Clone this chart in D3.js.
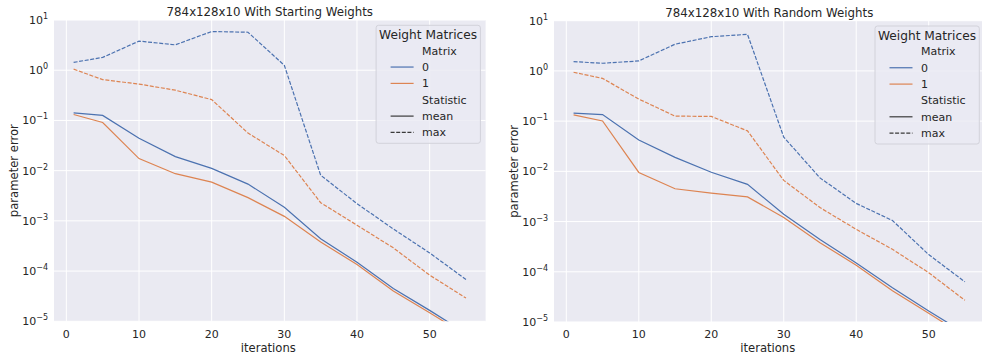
<!DOCTYPE html>
<html>
<head>
<meta charset="utf-8">
<script src="https://cdn.jsdelivr.net/npm/d3@7"></script>
<style>
  body { margin: 0; background: #fff; }
  text { font-family: "DejaVu Sans", sans-serif; fill: #262626; }
</style>
</head>
<body>
<svg id="chart" width="982" height="356"></svg>
<script>
// iterations sampled
var iterations = [1, 5, 10, 15, 20, 25, 30, 35, 40, 45, 50, 55];
var matrices = ["0", "1"];
var statistics = ["mean", "max"];
var titles = ["784x128x10 With Starting Weights", "784x128x10 With Random Weights"];
var yTicks = [1e-5, 1e-4, 1e-3, 1e-2, 1e-1, 1, 10];
var xTicks = [0, 10, 20, 30, 40, 50];

// starting weights panel
var startMean0 = [0.141, 0.126, 0.044, 0.019, 0.0111, 0.0054, 0.00187, 4.4e-4, 1.5e-4, 4.5e-5, 1.65e-5, 5.8e-6];
var startMean1 = [0.131, 0.091, 0.0174, 0.0087, 0.0059, 0.0029, 0.00123, 3.8e-4, 1.35e-4, 4.0e-5, 1.48e-5, 5.3e-6];
var startMax0 = [1.43, 1.8, 3.8, 3.2, 5.9, 5.7, 1.25, 0.0081, 0.0022, 6.9e-4, 2.3e-4, 6.8e-5];
var startMax1 = [1.05, 0.65, 0.53, 0.40, 0.26, 0.056, 0.020, 0.0023, 8.2e-4, 2.9e-4, 8.3e-5, 2.9e-5];

// random weights panel
var randMean0 = [0.144, 0.135, 0.042, 0.019, 0.0096, 0.0055, 0.0014, 4.4e-4, 1.5e-4, 4.8e-5, 1.65e-5, 6.0e-6];
var randMean1 = [0.133, 0.101, 0.0095, 0.0045, 0.0037, 0.0031, 0.0012, 3.8e-4, 1.35e-4, 4.2e-5, 1.5e-5, 5.2e-6];
var randMax0 = [1.53, 1.42, 1.58, 3.4, 4.8, 5.35, 0.048, 0.0074, 0.0023, 0.00105, 2.2e-4, 6.3e-5];
var randMax1 = [0.94, 0.71, 0.275, 0.126, 0.124, 0.064, 0.0066, 0.0019, 7.0e-4, 2.8e-4, 9.6e-5, 2.7e-5];

var colors = {"0": "#4c72b0", "1": "#dd8452"};
var dashes = {"mean": null, "max": "4,1.6"};

var panels = [
  {title: titles[0], left: 54, top: 20, width: 431.6, height: 301.3,
   series: {"0mean": startMean0, "1mean": startMean1, "0max": startMax0, "1max": startMax1}},
  {title: titles[1], left: 554, top: 20.7, width: 430.5, height: 301.3,
   series: {"0mean": randMean0, "1mean": randMean1, "0max": randMax0, "1max": randMax1}}
];

var svg = d3.select("#chart");

panels.forEach(function(p, pi) {
  var x = d3.scaleLinear().domain([-1.7, 57.7]).range([0, p.width]);
  var y = d3.scaleLog().domain([1e-5, 10]).range([p.height, 0]);

  var g = svg.append("g").attr("transform", "translate(" + p.left + "," + p.top + ")");

  g.append("rect").attr("width", p.width).attr("height", p.height).attr("fill", "#eaeaf2");

  svg.append("clipPath").attr("id", "clip" + pi)
    .append("rect").attr("width", p.width).attr("height", p.height);

  // grid
  g.selectAll(".gx").data(xTicks).enter().append("line")
    .attr("x1", d => x(d)).attr("x2", d => x(d))
    .attr("y1", 0).attr("y2", p.height)
    .attr("stroke", "#fff").attr("stroke-width", 1);
  g.selectAll(".gy").data(yTicks).enter().append("line")
    .attr("x1", 0).attr("x2", p.width)
    .attr("y1", d => y(d)).attr("y2", d => y(d))
    .attr("stroke", "#fff").attr("stroke-width", 1);

  // x tick labels
  g.selectAll(".xt").data(xTicks).enter().append("text")
    .attr("x", d => x(d)).attr("y", p.height + 16.5)
    .attr("text-anchor", "middle").attr("font-size", 11)
    .text(d => d);

  // y tick labels as 10^n
  var yt = g.selectAll(".yt").data(yTicks).enter().append("text")
    .attr("x", -6).attr("y", d => y(d) + 4)
    .attr("text-anchor", "end").attr("font-size", 11);
  yt.append("tspan").text("10");
  yt.append("tspan").attr("dy", -5).attr("font-size", 8)
    .text(d => String(Math.round(Math.log10(d))).replace("-", "\u2212"));

  // axis labels
  g.append("text").attr("x", p.width / 2 - 1.5).attr("y", p.height + 30.5)
    .attr("text-anchor", "middle").attr("font-size", 11.6).text("iterations");
  g.append("text")
    .attr("transform", "translate(" + (-36) + "," + (p.height / 2) + ") rotate(-90)")
    .attr("text-anchor", "middle").attr("font-size", 11.6).text("parameter error");

  // title
  g.append("text").attr("x", p.width / 2).attr("y", -4)
    .attr("text-anchor", "middle").attr("font-size", 11.8).text(p.title);

  // lines
  var line = d3.line().x((d, i) => x(iterations[i])).y(d => y(d));
  var lg = g.append("g").attr("clip-path", "url(#clip" + pi + ")");
  statistics.slice().reverse().forEach(function(s) {
    matrices.forEach(function(m) {
      lg.append("path")
        .datum(p.series[m + s])
        .attr("d", line)
        .attr("fill", "none")
        .attr("stroke", colors[m])
        .attr("stroke-width", 1.2)
        .attr("stroke-dasharray", dashes[s]);
    });
  });

  // legend
  var lx = p.width - 109.5, ly = 5.3;
  var leg = g.append("g").attr("transform", "translate(" + lx + "," + ly + ")");
  leg.append("rect").attr("width", 104.3).attr("height", 118).attr("rx", 2.5)
    .attr("fill", "#eaeaf2").attr("fill-opacity", 0.8)
    .attr("stroke", "#d2d2da").attr("stroke-width", 1);
  leg.append("text").attr("x", 52).attr("y", 13.5).attr("text-anchor", "middle")
    .attr("font-size", 12.2).text("Weight Matrices");
  var rows = [
    {label: "Matrix", color: null, dash: null},
    {label: matrices[0], color: colors["0"], dash: null},
    {label: matrices[1], color: colors["1"], dash: null},
    {label: "Statistic", color: null, dash: null},
    {label: statistics[0], color: "#3a3a3a", dash: null},
    {label: statistics[1], color: "#3a3a3a", dash: dashes["max"]}
  ];
  rows.forEach(function(r, i) {
    var ry = 25.4 + i * 16.35;
    if (r.color) {
      leg.append("line").attr("x1", 14.5).attr("x2", 37.5).attr("y1", ry).attr("y2", ry)
        .attr("stroke", r.color).attr("stroke-width", 1.2)
        .attr("stroke-dasharray", r.dash);
    }
    leg.append("text").attr("x", 46).attr("y", ry + 4).attr("font-size", 11)
      .text(r.label);
  });
});
</script>
</body>
</html>
